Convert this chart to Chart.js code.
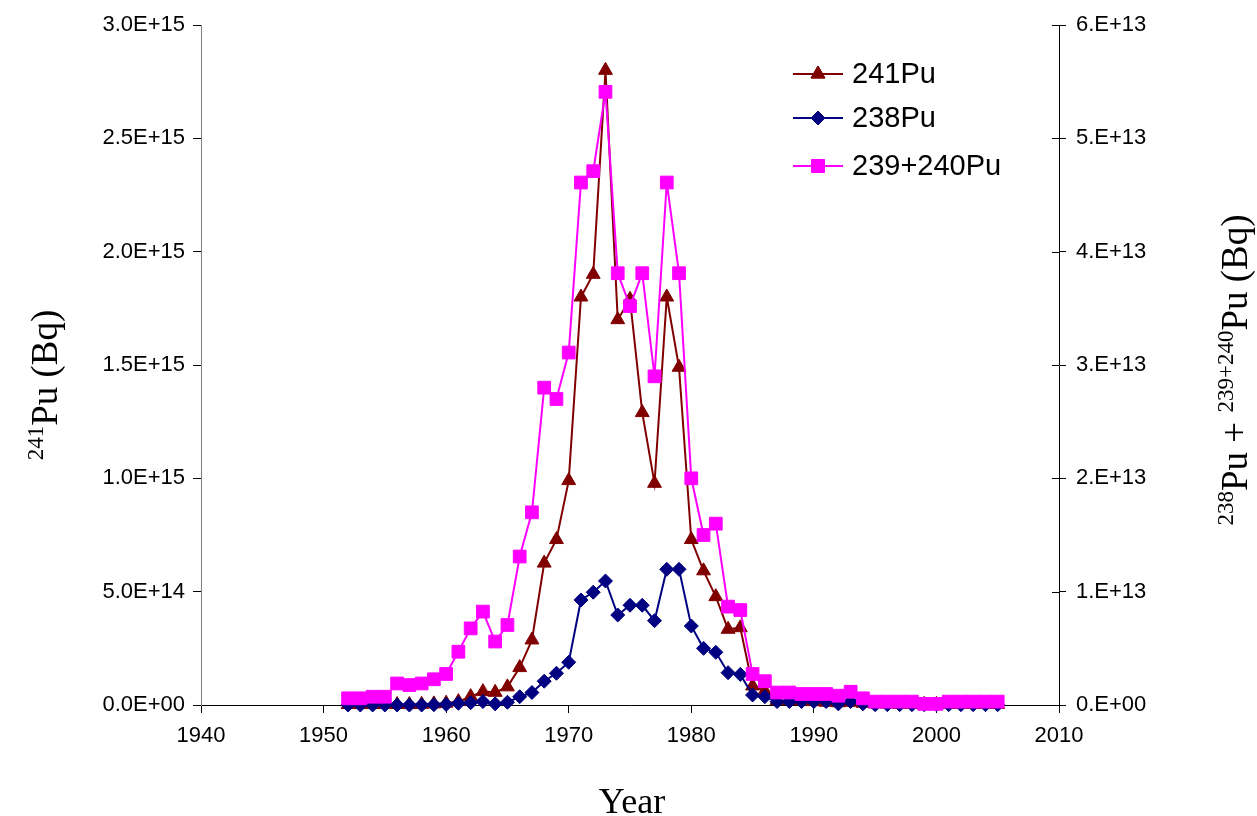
<!DOCTYPE html>
<html>
<head>
<meta charset="utf-8">
<script src="https://cdn.jsdelivr.net/npm/chart.js@4/dist/chart.umd.min.js"></script>
<style>
  html, body { margin: 0; padding: 0; background: #fff; }
  #wrap { width: 1257px; height: 816px; }
</style>
</head>
<body>
<div id="wrap"><canvas id="c" width="1257" height="816"></canvas></div>
<script>
// ---- Data ----
const years = [1952,1953,1954,1955,1956,1957,1958,1959,1960,1961,1962,1963,1964,1965,1966,1967,1968,1969,
  1970,1971,1972,1973,1974,1975,1976,1977,1978,1979,1980,1981,1982,1983,1984,1985,1986,1987,1988,1989,
  1990,1991,1992,1993,1994,1995,1996,1997,1998,1999,2000,2001,2002,2003,2004,2005];

// 241Pu (Bq) — left axis
const pu241 = [0.002e15,0.002e15,0.002e15,0.002e15,0.002e15,0.002e15,0.003e15,0.005e15,0.008e15,0.015e15,
  0.037e15,0.059e15,0.056e15,0.080e15,0.165e15,0.287e15,0.626e15,0.730e15,
  0.990e15,1.800e15,1.900e15,2.800e15,1.700e15,1.790e15,1.290e15,0.978e15,1.800e15,1.490e15,
  0.730e15,0.592e15,0.478e15,0.334e15,0.341e15,0.084e15,0.062e15,0.020e15,0.020e15,0.018e15,
  0.015e15,0.012e15,0.010e15,0.012e15,0.008e15,0.005e15,0.004e15,0.003e15,0.003e15,0.003e15,
  0.003e15,0.003e15,0.003e15,0.003e15,0.003e15,0.003e15];

// 238Pu (Bq) — right axis
const pu238 = [0.000e13,0.000e13,0.000e13,0.000e13,0.000e13,0.000e13,0.000e13,0.003e13,0.005e13,0.015e13,
  0.020e13,0.030e13,0.010e13,0.024e13,0.073e13,0.110e13,0.210e13,0.280e13,
  0.377e13,0.927e13,0.995e13,1.094e13,0.794e13,0.880e13,0.880e13,0.744e13,1.197e13,1.197e13,
  0.697e13,0.500e13,0.465e13,0.285e13,0.270e13,0.088e13,0.073e13,0.030e13,0.030e13,0.030e13,
  0.030e13,0.030e13,0.010e13,0.030e13,0.010e13,0.003e13,0.003e13,0.003e13,0.003e13,0.003e13,
  0.003e13,0.003e13,0.003e13,0.003e13,0.003e13,0.003e13];

// 239+240Pu (Bq) — right axis
const pu239240 = [0.059e13,0.059e13,0.073e13,0.073e13,0.190e13,0.176e13,0.190e13,0.227e13,0.274e13,0.470e13,
  0.676e13,0.824e13,0.560e13,0.706e13,1.310e13,1.700e13,2.800e13,2.700e13,
  3.110e13,4.610e13,4.710e13,5.410e13,3.810e13,3.520e13,3.810e13,2.900e13,4.610e13,3.810e13,
  2.000e13,1.500e13,1.600e13,0.868e13,0.838e13,0.274e13,0.210e13,0.110e13,0.110e13,0.097e13,
  0.097e13,0.097e13,0.082e13,0.117e13,0.059e13,0.030e13,0.030e13,0.030e13,0.030e13,0.010e13,
  0.010e13,0.030e13,0.030e13,0.030e13,0.030e13,0.030e13];

const seriesNames = ['241Pu', '238Pu', '239+240Pu'];
const leftTickLabels = ['0.0E+00','5.0E+14','1.0E+15','1.5E+15','2.0E+15','2.5E+15','3.0E+15'];
const rightTickLabels = ['0.E+00','1.E+13','2.E+13','3.E+13','4.E+13','5.E+13','6.E+13'];
const xTickLabels = ['1940','1950','1960','1970','1980','1990','2000','2010'];

// ---- Styles ----
const COL241 = '#800000', COL238 = '#000080', COL239 = '#FF00FF';
const SANS = '"Liberation Sans", Arial, sans-serif';
const SERIF = '"Liberation Serif", "Times New Roman", serif';

const toPts = arr => years.map((y, i) => ({ x: y, y: arr[i] }));

const styles = [
  { color: COL241, pointStyle: 'triangle', radius: 8 },
  { color: COL238, pointStyle: 'rectRot', radius: 7 },
  { color: COL239, pointStyle: 'rect', radius: 9 }
];

// Custom plugin: legend with line+marker, rich axis titles, inner ticks on right axis
const extras = {
  id: 'extras',
  afterDraw(chart) {
    const ctx = chart.ctx;
    const ca = chart.chartArea;
    ctx.save();
    // inner ticks on right axis
    const yr = chart.scales.yR;
    ctx.strokeStyle = '#000';
    ctx.lineWidth = 1;
    yr.ticks.forEach(t => {
      const py = Math.round(yr.getPixelForValue(t.value)) + 0.5;
      ctx.beginPath();
      ctx.moveTo(ca.right - 7, py);
      ctx.lineTo(ca.right, py);
      ctx.stroke();
    });

    // legend
    const legendY = [74, 118, 166];
    seriesNames.forEach((name, i) => {
      const s = styles[i];
      const y = legendY[i];
      ctx.strokeStyle = s.color;
      ctx.lineWidth = 2;
      ctx.beginPath();
      ctx.moveTo(793, y);
      ctx.lineTo(843, y);
      ctx.stroke();
      ctx.fillStyle = s.color;
      ctx.lineWidth = 1;
      Chart.helpers.drawPoint(ctx, { pointStyle: s.pointStyle, radius: s.radius, rotation: 0, borderWidth: 1 }, 818, y);
      ctx.fill();
      ctx.stroke();
      ctx.fillStyle = '#000';
      ctx.font = '29px ' + SANS;
      ctx.textBaseline = 'middle';
      ctx.textAlign = 'left';
      ctx.fillText(name, 852, y + 1);
    });

    // rich rotated titles
    function rich(segs, cx, cy, rotate) {
      ctx.save();
      ctx.translate(cx, cy);
      if (rotate) ctx.rotate(-Math.PI / 2);
      ctx.textBaseline = 'alphabetic';
      ctx.textAlign = 'left';
      let total = 0;
      segs.forEach(s => { ctx.font = s.size + 'px ' + SERIF; s.w = ctx.measureText(s.t).width; total += s.w; });
      let x = -total / 2;
      ctx.fillStyle = '#000';
      segs.forEach(s => { ctx.font = s.size + 'px ' + SERIF; ctx.fillText(s.t, x, -s.rise); x += s.w; });
      ctx.restore();
    }
    rich([{ t: '241', size: 23, rise: 14 }, { t: 'Pu (Bq)', size: 37, rise: 0 }], 57, 385, true);
    rich([{ t: '238', size: 23, rise: 14 }, { t: 'Pu + ', size: 37, rise: 0 },
          { t: '239+240', size: 23, rise: 14 }, { t: 'Pu (Bq)', size: 37, rise: 0 }], 1247, 370, true);
    rich([{ t: 'Year', size: 36, rise: 0 }], 632, 813, false);
    ctx.restore();
  }
};

const ds = [
  { label: seriesNames[0], data: toPts(pu241), yAxisID: 'yL', order: 3 },
  { label: seriesNames[1], data: toPts(pu238), yAxisID: 'yR', order: 2 },
  { label: seriesNames[2], data: toPts(pu239240), yAxisID: 'yR', order: 1 }
].map((d, i) => Object.assign(d, {
  borderColor: styles[i].color,
  backgroundColor: styles[i].color,
  pointBackgroundColor: styles[i].color,
  pointBorderColor: styles[i].color,
  pointStyle: styles[i].pointStyle,
  pointRadius: styles[i].radius,
  pointHoverRadius: styles[i].radius,
  pointBorderWidth: 1,
  borderWidth: 2,
  tension: 0,
  fill: false,
  clip: false
}));

new Chart(document.getElementById('c'), {
  type: 'line',
  data: { datasets: ds },
  options: {
    responsive: false,
    animation: false,
    events: [],
    layout: { padding: { top: 25, left: 0, right: 0, bottom: 0 } },
    plugins: { legend: { display: false }, tooltip: { enabled: false } },
    scales: {
      x: {
        type: 'linear', min: 1940, max: 2010,
        afterFit(s) { s.height = 111; },
        ticks: { stepSize: 10, padding: 10, color: '#000', font: { family: SANS, size: 22 },
          callback: (v) => { const i = Math.round((v - 1940) / 10); return xTickLabels[i]; },
          maxRotation: 0, autoSkip: false },
        grid: { drawOnChartArea: false, tickLength: 8, color: '#000', tickColor: '#000' },
        border: { color: '#000', width: 1 }
      },
      yL: {
        type: 'linear', position: 'left', min: 0, max: 3e15,
        afterFit(s) { s.width = 201; },
        ticks: { stepSize: 5e14, padding: 8, color: '#000', font: { family: SANS, size: 22 },
          callback: (v) => leftTickLabels[Math.round(v / 5e14)] },
        grid: { drawOnChartArea: false, tickLength: 8, color: '#000', tickColor: '#000' },
        border: { color: '#808080', width: 1 }
      },
      yR: {
        type: 'linear', position: 'right', min: 0, max: 6e13,
        afterFit(s) { s.width = 198; },
        ticks: { stepSize: 1e13, padding: 10, color: '#000', font: { family: SANS, size: 22 },
          callback: (v) => rightTickLabels[Math.round(v / 1e13)] },
        grid: { drawOnChartArea: false, tickLength: 7, color: '#000', tickColor: '#000' },
        border: { color: '#000', width: 1 }
      }
    }
  },
  plugins: [extras]
});
</script>
</body>
</html>
